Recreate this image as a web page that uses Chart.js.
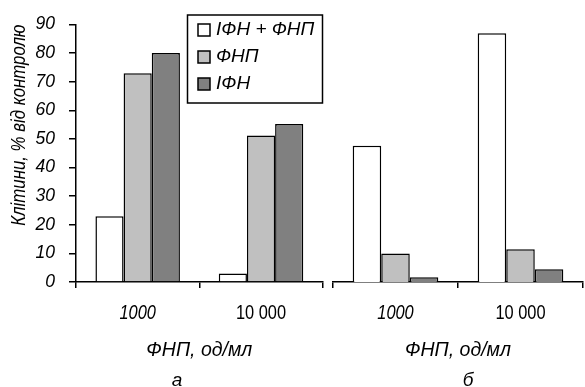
<!DOCTYPE html>
<html><head><meta charset="utf-8">
<script src="https://cdn.jsdelivr.net/npm/chart.js@4.4.1/dist/chart.umd.min.js"></script>
<style>
html,body{margin:0;padding:0;background:#fff;}
#wrap{position:relative;width:585px;height:387px;overflow:hidden;background:#fff;}
canvas{position:absolute;top:0;}
#ca{left:0;} #cb{left:328px;}
</style></head><body>
<div id="wrap"><canvas id="ca" width="328" height="387"></canvas><canvas id="cb" width="257" height="387"></canvas></div>
<script>
// ---- data ----
const categories = ['1000', '10 000'];
const seriesLabels = ['ІФН + ФНП', 'ФНП', 'ІФН'];
const panelA_ifnTnf = [23, 3];
const panelA_tnf = [73, 51.2];
const panelA_ifn = [80, 55.2];
const panelB_ifnTnf = [46.9, 85.6];
const panelB_tnf = [9.8, 11.3];
const panelB_ifn = [1.6, 4.4];
const yTitle = 'Клітини, % від контролю';
const xTitle = 'ФНП, од/мл';
const panelLetters = ['а', 'б'];

// ---- styles ----
// Regular family and a "narrow" variant (marked by a dummy fallback name) that is drawn horizontally condensed.
const FF = "'Liberation Sans', sans-serif";
const FN = "'Liberation Sans', nrw, sans-serif";
const NARROW = 0.82;
(function () {
  const P = CanvasRenderingContext2D.prototype;
  const fill = P.fillText, measure = P.measureText;
  P.fillText = function (t, x, y, w) {
    if (String(this.font).indexOf('nrw') < 0) return w === undefined ? fill.call(this, t, x, y) : fill.call(this, t, x, y, w);
    this.save(); this.translate(x, y); this.scale(NARROW, 1);
    if (w === undefined) fill.call(this, t, 0, 0); else fill.call(this, t, 0, 0, w / NARROW);
    this.restore();
  };
  P.measureText = function (t) {
    const m = measure.call(this, t);
    if (String(this.font).indexOf('nrw') < 0) return m;
    return { width: m.width * NARROW, actualBoundingBoxAscent: m.actualBoundingBoxAscent, actualBoundingBoxDescent: m.actualBoundingBoxDescent,
      actualBoundingBoxLeft: m.actualBoundingBoxLeft * NARROW, actualBoundingBoxRight: m.actualBoundingBoxRight * NARROW };
  };
})();
const fills = ['#ffffff', '#c0c0c0', '#808080'];
Chart.defaults.font.family = FF;
Chart.defaults.color = '#000';

const boxLegend = {
  id: 'boxLegend',
  afterDraw(chart, args, o) {
    if (!o || !o.show) return;
    const ctx = chart.ctx;
    ctx.save();
    ctx.lineWidth = 1.5; ctx.strokeStyle = '#000';
    ctx.fillStyle = '#fff';
    ctx.fillRect(o.left, o.top, o.width, o.height);
    ctx.strokeRect(o.left, o.top, o.width, o.height);
    chart.data.datasets.forEach((ds, i) => {
      const cy = o.top + o.firstRow + i * o.rowGap;
      ctx.fillStyle = ds.backgroundColor;
      ctx.fillRect(o.sx, cy - o.size / 2, o.size, o.size);
      ctx.strokeRect(o.sx, cy - o.size / 2, o.size, o.size);
      ctx.fillStyle = '#000';
      ctx.font = 'italic 19px ' + FF;
      ctx.textBaseline = 'middle';
      ctx.textAlign = 'left';
      ctx.fillText(ds.label, o.tx, cy);
    });
    ctx.restore();
  }
};
const panelLetter = {
  id: 'panelLetter',
  afterDraw(chart, args, o) {
    const ctx = chart.ctx;
    ctx.save();
    ctx.fillStyle = '#000';
    ctx.font = 'italic 19px ' + FF;
    ctx.textAlign = 'center';
    ctx.textBaseline = 'alphabetic';
    ctx.fillText(o.text, o.x, o.y);
    ctx.restore();
  }
};

function makeChart(id, vals, showY, padding, letterX, letter) {
  const datasets = vals.map((v, i) => ({
    label: seriesLabels[i], data: v,
    backgroundColor: fills[i], borderColor: '#000', borderWidth: 1.5,
    barPercentage: 1, categoryPercentage: 0.685
  }));
  return new Chart(document.getElementById(id), {
    type: 'bar',
    data: { labels: categories, datasets },
    plugins: [boxLegend, panelLetter],
    options: {
      responsive: false, animation: false, devicePixelRatio: 1,
      layout: { padding },
      plugins: {
        legend: { display: false }, tooltip: { enabled: false },
        boxLegend: { show: showY, left: 187.5, top: 15, width: 135, height: 88,
          firstRow: 15, rowGap: 27, size: 12, sx: 198, tx: 216 },
        panelLetter: { text: letter, x: letterX, y: 386 }
      },
      scales: {
        x: {
          ticks: {
            font: c => ({ family: FN, size: 20, style: c.index === 0 ? 'italic' : 'normal' }),
            color: '#000', padding: 13, maxRotation: 0, autoSkip: false
          },
          grid: { offset: true, drawOnChartArea: false, drawTicks: true, tickLength: 6, color: '#000', lineWidth: 1.5 },
          border: { display: true, color: '#000', width: 1.5 },
          title: { display: true, text: xTitle, color: '#000', font: { family: FF, size: 19.5, style: 'italic' }, padding: { top: 0, bottom: 25 } },
          afterFit(s) { s.height = 105; }
        },
        y: {
          display: showY,
          min: 0, max: 90,
          ticks: { stepSize: 10, color: '#000', font: { family: FF, size: 17.5, style: 'italic' }, padding: 14 },
          grid: { drawOnChartArea: false, drawTicks: true, tickLength: 7, color: '#000', lineWidth: 1.5 },
          border: { display: true, color: '#000', width: 1.5 },
          title: { display: true, text: yTitle, align: 'end', color: '#000', font: { family: FN, size: 20.5, style: 'italic' }, padding: { top: 7, bottom: 0 } },
          afterFit(s) { if (showY) s.width = 76; }
        }
      }
    }
  });
}

makeChart('ca', [panelA_ifnTnf, panelA_tnf, panelA_ifn], true, { top: 20.5, right: 5.3, left: 0, bottom: 0 }, 177, panelLetters[0]);
makeChart('cb', [panelB_ifnTnf, panelB_tnf, panelB_ifn], false, { top: 20.5, right: 2, left: 5, bottom: 0 }, 140, panelLetters[1]);
</script>
</body></html>
